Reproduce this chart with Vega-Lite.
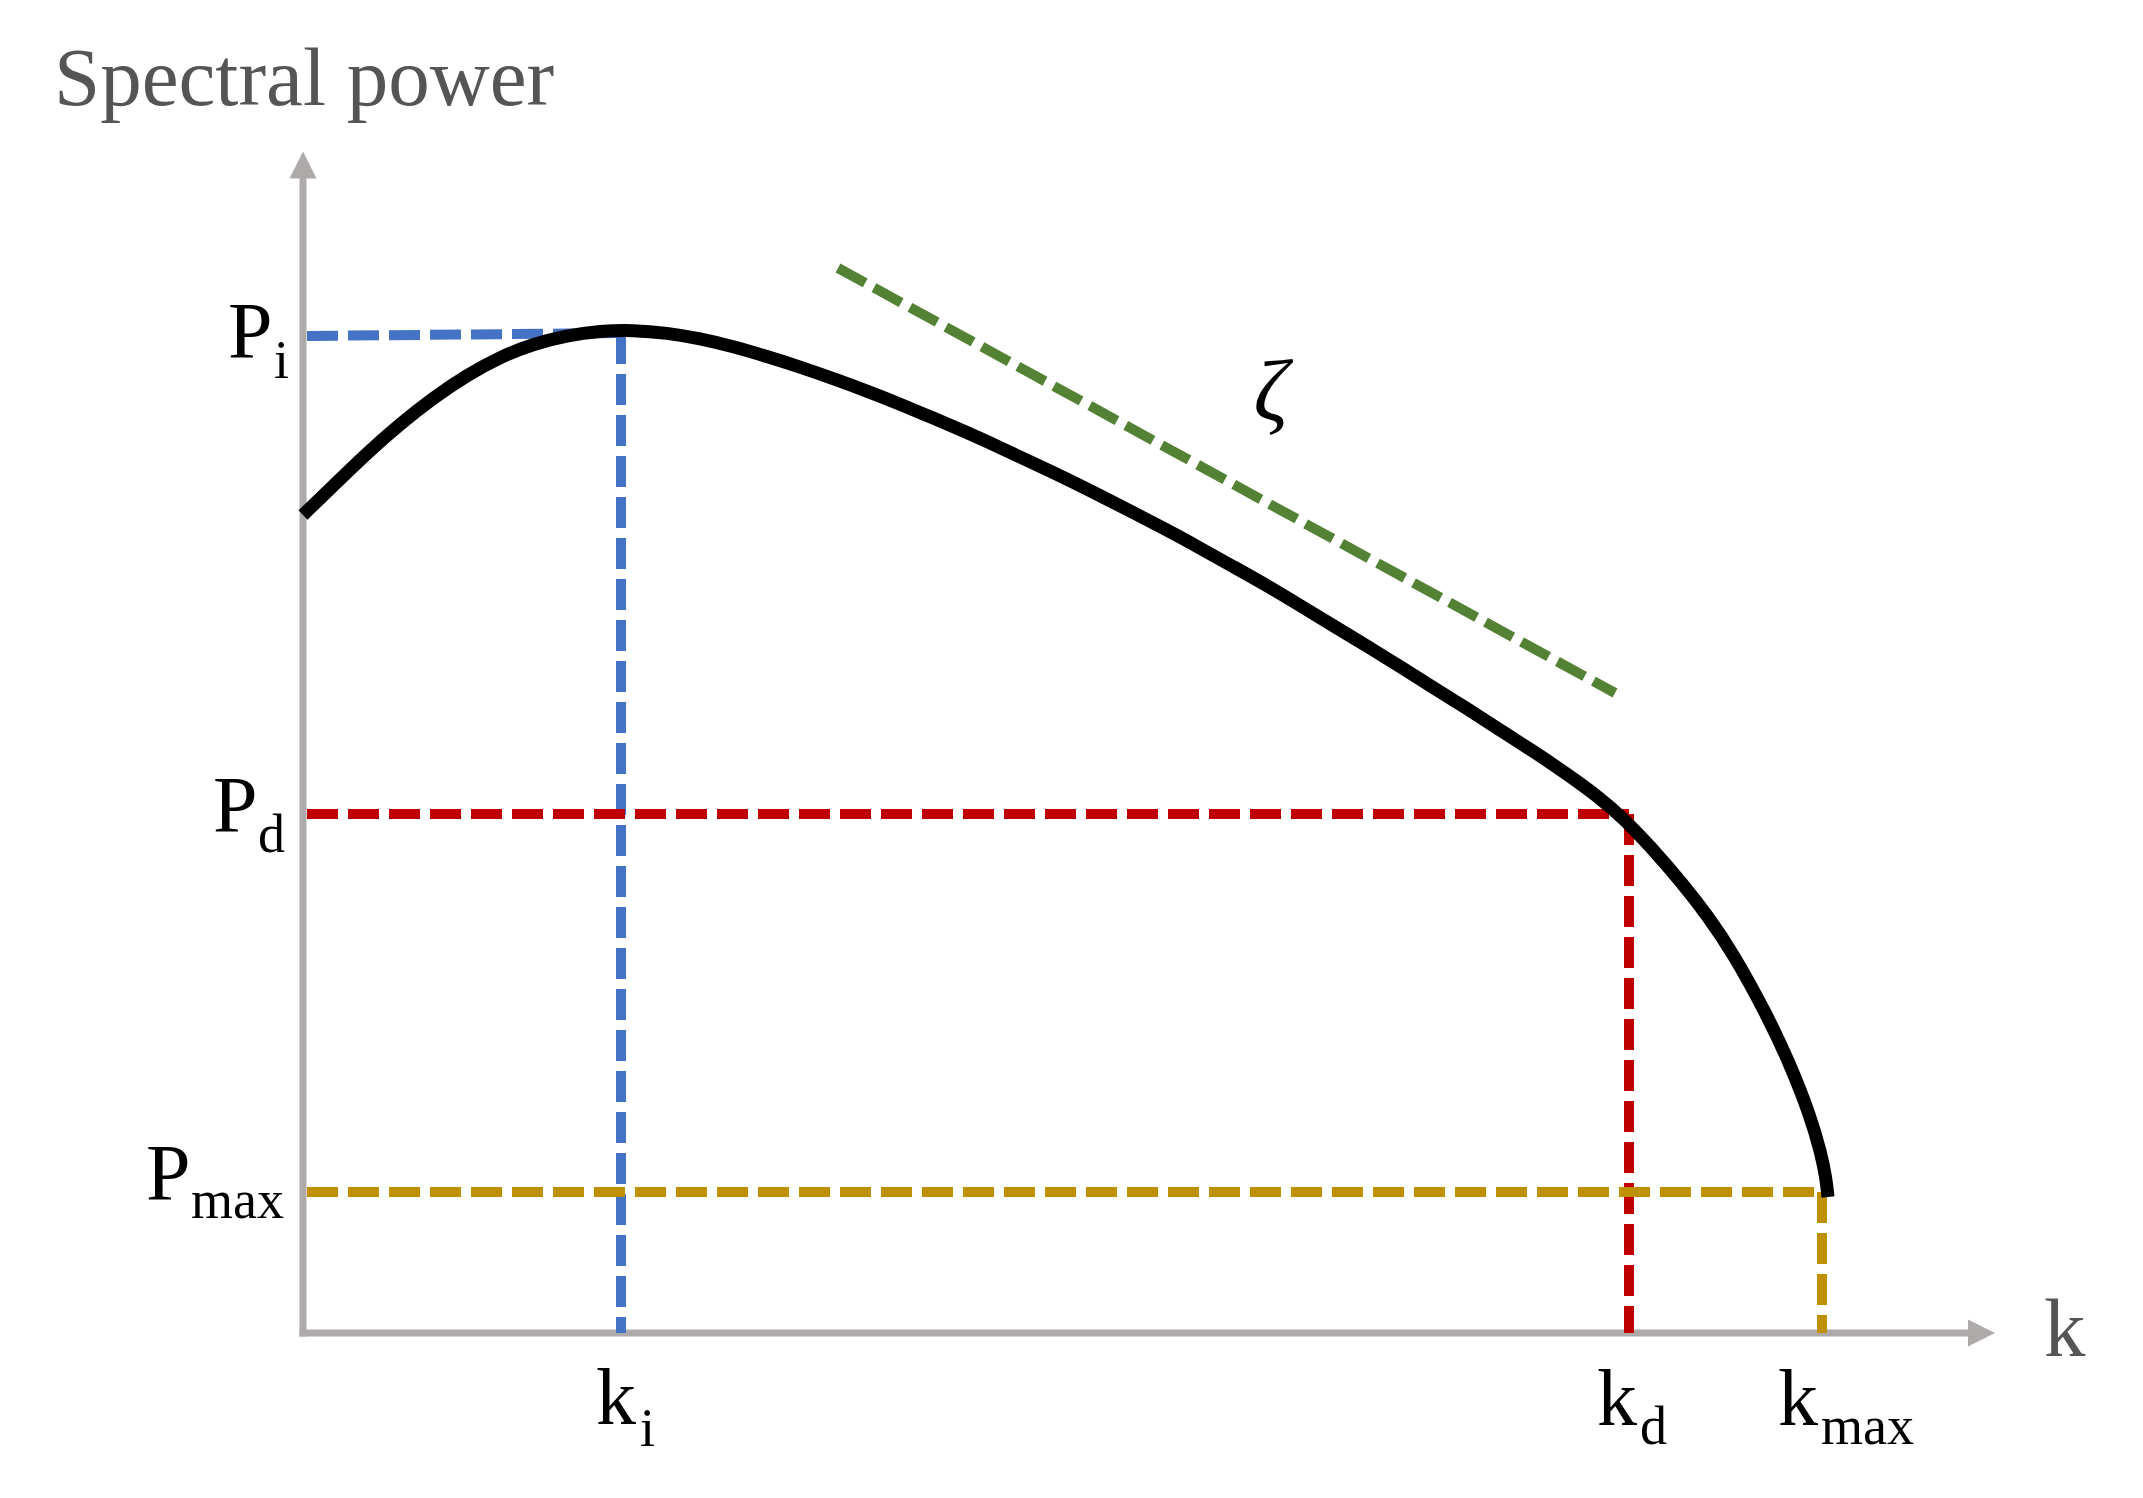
{
  "$schema": "https://vega.github.io/schema/vega-lite/v6.json",
  "width": 2143,
  "height": 1498,
  "autosize": {"type": "fit", "contains": "padding"},
  "padding": 0,
  "background": "white",
  "config": {"view": {"stroke": null}},
  "datasets": {
    "curve": [
      {"k": 0.0, "P": 81.8}, {"k": 3.0, "P": 84.7}, {"k": 6.4, "P": 88.0}, {"k": 9.7, "P": 90.9},
      {"k": 13.0, "P": 93.5}, {"k": 16.4, "P": 95.8}, {"k": 19.7, "P": 97.6}, {"k": 23.0, "P": 98.9},
      {"k": 26.4, "P": 99.75}, {"k": 29.7, "P": 100.2}, {"k": 33.0, "P": 100.3}, {"k": 36.4, "P": 100.0},
      {"k": 39.7, "P": 99.45}, {"k": 43.0, "P": 98.65}, {"k": 46.4, "P": 97.65}, {"k": 49.7, "P": 96.6},
      {"k": 53.0, "P": 95.45}, {"k": 56.4, "P": 94.2}, {"k": 59.7, "P": 92.9}, {"k": 63.0, "P": 91.5},
      {"k": 66.4, "P": 90.05}, {"k": 69.7, "P": 88.55}, {"k": 73.0, "P": 87.0}, {"k": 76.4, "P": 85.4},
      {"k": 79.7, "P": 83.75}, {"k": 83.0, "P": 82.05}, {"k": 86.4, "P": 80.3}, {"k": 89.7, "P": 78.5},
      {"k": 93.0, "P": 76.65}, {"k": 96.4, "P": 74.75}, {"k": 99.7, "P": 72.75}, {"k": 103.0, "P": 70.75},
      {"k": 106.4, "P": 68.7}, {"k": 109.7, "P": 66.65}, {"k": 113.0, "P": 64.55}, {"k": 116.4, "P": 62.45},
      {"k": 119.7, "P": 60.3}, {"k": 123.0, "P": 58.2}, {"k": 126.4, "P": 55.9}, {"k": 129.7, "P": 53.5},
      {"k": 132.0, "P": 51.5}, {"k": 134.7, "P": 48.7}, {"k": 138.0, "P": 44.9}, {"k": 140.4, "P": 41.8},
      {"k": 143.0, "P": 38.0}, {"k": 146.4, "P": 31.8}, {"k": 148.7, "P": 26.9}, {"k": 150.7, "P": 21.8},
      {"k": 151.8, "P": 18.0}, {"k": 152.3, "P": 15.5}, {"k": 152.5, "P": 13.6}
    ],
    "axes": [
      {"name": "y", "x": 0, "y": 0, "x2": 0, "y2": 117},
      {"name": "x", "x": 0, "y": 0, "x2": 168, "y2": 0}
    ],
    "arrows": [
      {"dir": "up", "x": 0, "y": 116.8},
      {"dir": "right", "x": 167.85, "y": 0}
    ],
    "refs": [
      {"series": "i", "x": 0.4, "y": 99.7, "x2": 31.8, "y2": 100.0},
      {"series": "i", "x": 31.8, "y": 100.0, "x2": 31.8, "y2": 0},
      {"series": "d", "x": 0.4, "y": 51.9, "x2": 132.6, "y2": 51.9},
      {"series": "d", "x": 132.6, "y": 51.9, "x2": 132.6, "y2": 0},
      {"series": "max", "x": 0.4, "y": 14.1, "x2": 151.9, "y2": 14.1},
      {"series": "max", "x": 151.9, "y": 14.1, "x2": 151.9, "y2": 0},
      {"series": "zeta", "x": 53.5, "y": 106.5, "x2": 131.2, "y2": 64.0}
    ],
    "labels": [
      {"text": "P", "x": -7.5, "y": 97.5, "role": "main"},
      {"text": "i", "x": -2.9, "y": 95.5, "role": "sub"},
      {"text": "P", "x": -9.0, "y": 50.1, "role": "main"},
      {"text": "d", "x": -4.5, "y": 48.1, "role": "sub"},
      {"text": "P", "x": -15.7, "y": 13.3, "role": "main"},
      {"text": "max", "x": -11.2, "y": 11.5, "role": "sub"},
      {"text": "k", "x": 29.3, "y": -9.1, "role": "main"},
      {"text": "i", "x": 33.7, "y": -11.3, "role": "sub"},
      {"text": "k", "x": 129.4, "y": -9.2, "role": "main"},
      {"text": "d", "x": 133.7, "y": -11.1, "role": "sub"},
      {"text": "k", "x": 147.5, "y": -9.2, "role": "main"},
      {"text": "max", "x": 151.8, "y": -11.1, "role": "sub"},
      {"text": "k", "x": 174.1, "y": -2.3, "role": "gray"},
      {"text": "Spectral power", "x": -24.9, "y": 122.8, "role": "gray"},
      {"text": "ζ", "x": 96.8, "y": 91.3, "role": "zeta"}
    ]
  },
  "layer": [
    {
      "data": {"name": "axes"},
      "mark": {"type": "rule", "color": "#AEAAAA", "strokeWidth": 7, "strokeCap": "square"},
      "encoding": {
        "x": {"field": "x", "type": "quantitative", "scale": {"domain": [-30.3, 184.0], "nice": false, "zero": false}, "axis": null},
        "y": {"field": "y", "type": "quantitative", "scale": {"domain": [-16.5, 133.3], "nice": false, "zero": false}, "axis": null},
        "x2": {"field": "x2"},
        "y2": {"field": "y2"}
      }
    },
    {
      "data": {"name": "arrows"},
      "transform": [{"filter": "datum.dir === 'up'"}],
      "mark": {"type": "point", "shape": "M0,-1L1,1L-1,1Z", "filled": true, "color": "#AEAAAA", "size": 729, "opacity": 1},
      "encoding": {
        "x": {"field": "x", "type": "quantitative", "scale": {"domain": [-30.3, 184.0], "nice": false, "zero": false}, "axis": null},
        "y": {"field": "y", "type": "quantitative", "scale": {"domain": [-16.5, 133.3], "nice": false, "zero": false}, "axis": null}
      }
    },
    {
      "data": {"name": "arrows"},
      "transform": [{"filter": "datum.dir === 'right'"}],
      "mark": {"type": "point", "shape": "M-1,-1L1,0L-1,1Z", "filled": true, "color": "#AEAAAA", "size": 729, "opacity": 1},
      "encoding": {
        "x": {"field": "x", "type": "quantitative", "scale": {"domain": [-30.3, 184.0], "nice": false, "zero": false}, "axis": null},
        "y": {"field": "y", "type": "quantitative", "scale": {"domain": [-16.5, 133.3], "nice": false, "zero": false}, "axis": null}
      }
    },
    {
      "data": {"name": "refs"},
      "mark": {"type": "rule", "strokeWidth": 10, "strokeDash": [31, 10], "strokeCap": "butt"},
      "encoding": {
        "x": {"field": "x", "type": "quantitative", "scale": {"domain": [-30.3, 184.0], "nice": false, "zero": false}, "axis": null},
        "y": {"field": "y", "type": "quantitative", "scale": {"domain": [-16.5, 133.3], "nice": false, "zero": false}, "axis": null},
        "x2": {"field": "x2"},
        "y2": {"field": "y2"},
        "color": {"field": "series", "type": "nominal", "scale": {"domain": ["i", "d", "max", "zeta"], "range": ["#4472C4", "#C00000", "#BF9000", "#548235"]}, "legend": null}
      }
    },
    {
      "data": {"name": "curve"},
      "mark": {"type": "line", "color": "black", "strokeWidth": 13, "interpolate": "basis", "strokeCap": "butt", "strokeJoin": "round"},
      "encoding": {
        "x": {"field": "k", "type": "quantitative", "scale": {"domain": [-30.3, 184.0], "nice": false, "zero": false}, "axis": null},
        "y": {"field": "P", "type": "quantitative", "scale": {"domain": [-16.5, 133.3], "nice": false, "zero": false}, "axis": null}
      }
    },
    {
      "data": {"name": "labels"},
      "transform": [{"filter": "datum.role === 'main'"}],
      "mark": {"type": "text", "font": "Liberation Serif", "fontSize": 80, "color": "black", "align": "left", "baseline": "alphabetic"},
      "encoding": {
        "x": {"field": "x", "type": "quantitative", "scale": {"domain": [-30.3, 184.0], "nice": false, "zero": false}, "axis": null},
        "y": {"field": "y", "type": "quantitative", "scale": {"domain": [-16.5, 133.3], "nice": false, "zero": false}, "axis": null},
        "text": {"field": "text"}
      }
    },
    {
      "data": {"name": "labels"},
      "transform": [{"filter": "datum.role === 'sub'"}],
      "mark": {"type": "text", "font": "Liberation Serif", "fontSize": 54, "color": "black", "align": "left", "baseline": "alphabetic"},
      "encoding": {
        "x": {"field": "x", "type": "quantitative", "scale": {"domain": [-30.3, 184.0], "nice": false, "zero": false}, "axis": null},
        "y": {"field": "y", "type": "quantitative", "scale": {"domain": [-16.5, 133.3], "nice": false, "zero": false}, "axis": null},
        "text": {"field": "text"}
      }
    },
    {
      "data": {"name": "labels"},
      "transform": [{"filter": "datum.role === 'gray'"}],
      "mark": {"type": "text", "font": "Liberation Serif", "fontSize": 83, "color": "#555555", "align": "left", "baseline": "alphabetic"},
      "encoding": {
        "x": {"field": "x", "type": "quantitative", "scale": {"domain": [-30.3, 184.0], "nice": false, "zero": false}, "axis": null},
        "y": {"field": "y", "type": "quantitative", "scale": {"domain": [-16.5, 133.3], "nice": false, "zero": false}, "axis": null},
        "text": {"field": "text"}
      }
    },
    {
      "data": {"name": "labels"},
      "transform": [{"filter": "datum.role === 'zeta'"}],
      "mark": {"type": "text", "font": "Liberation Serif", "fontSize": 86, "fontStyle": "italic", "color": "black", "align": "center", "baseline": "alphabetic"},
      "encoding": {
        "x": {"field": "x", "type": "quantitative", "scale": {"domain": [-30.3, 184.0], "nice": false, "zero": false}, "axis": null},
        "y": {"field": "y", "type": "quantitative", "scale": {"domain": [-16.5, 133.3], "nice": false, "zero": false}, "axis": null},
        "text": {"field": "text"}
      }
    }
  ]
}
